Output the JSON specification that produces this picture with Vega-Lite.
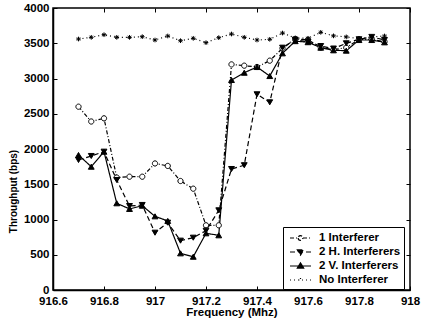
{
  "$schema": "https://vega.github.io/schema/vega-lite/v6.json",
  "autosize": "none",
  "width": 357,
  "height": 282,
  "padding": {"left": 53, "top": 8, "right": 11, "bottom": 30},
  "background": "white",
  "config": {
    "view": {"stroke": "black", "strokeWidth": 1.5},
    "font": "Liberation Sans",
    "axis": {
      "labelFont": "Liberation Sans", "labelFontWeight": "bold", "labelFontSize": 11.5, "labelColor": "black",
      "titleFont": "Liberation Sans", "titleFontWeight": "bold", "titleColor": "black",
      "domainColor": "black", "domainWidth": 1.5, "tickColor": "black", "tickSize": -4, "tickWidth": 1, "grid": false
    },
    "legend": {"labelFont": "Liberation Sans", "labelFontWeight": "bold", "labelFontSize": 11.5, "labelColor": "black"}
  },
  "data": {"values": [
    {"f": 916.70, "s": "1 Interferer", "v": 2600}, {"f": 916.75, "s": "1 Interferer", "v": 2390}, {"f": 916.80, "s": "1 Interferer", "v": 2435}, {"f": 916.85, "s": "1 Interferer", "v": 1595}, {"f": 916.90, "s": "1 Interferer", "v": 1607}, {"f": 916.95, "s": "1 Interferer", "v": 1607}, {"f": 917.00, "s": "1 Interferer", "v": 1795}, {"f": 917.05, "s": "1 Interferer", "v": 1760}, {"f": 917.10, "s": "1 Interferer", "v": 1546}, {"f": 917.15, "s": "1 Interferer", "v": 1437}, {"f": 917.20, "s": "1 Interferer", "v": 918}, {"f": 917.25, "s": "1 Interferer", "v": 918}, {"f": 917.30, "s": "1 Interferer", "v": 3200}, {"f": 917.35, "s": "1 Interferer", "v": 3182}, {"f": 917.40, "s": "1 Interferer", "v": 3163}, {"f": 917.45, "s": "1 Interferer", "v": 3253}, {"f": 917.50, "s": "1 Interferer", "v": 3428}, {"f": 917.55, "s": "1 Interferer", "v": 3560}, {"f": 917.60, "s": "1 Interferer", "v": 3550}, {"f": 917.65, "s": "1 Interferer", "v": 3440}, {"f": 917.70, "s": "1 Interferer", "v": 3410}, {"f": 917.75, "s": "1 Interferer", "v": 3437}, {"f": 917.80, "s": "1 Interferer", "v": 3556}, {"f": 917.85, "s": "1 Interferer", "v": 3556}, {"f": 917.90, "s": "1 Interferer", "v": 3522},
    {"f": 916.70, "s": "2 H. Interferers", "v": 1844}, {"f": 916.75, "s": "2 H. Interferers", "v": 1901}, {"f": 916.80, "s": "2 H. Interferers", "v": 1962}, {"f": 916.85, "s": "2 H. Interferers", "v": 1560}, {"f": 916.90, "s": "2 H. Interferers", "v": 1191}, {"f": 916.95, "s": "2 H. Interferers", "v": 1206}, {"f": 917.00, "s": "2 H. Interferers", "v": 813}, {"f": 917.05, "s": "2 H. Interferers", "v": 955}, {"f": 917.10, "s": "2 H. Interferers", "v": 700}, {"f": 917.15, "s": "2 H. Interferers", "v": 742}, {"f": 917.20, "s": "2 H. Interferers", "v": 841}, {"f": 917.25, "s": "2 H. Interferers", "v": 1130}, {"f": 917.30, "s": "2 H. Interferers", "v": 1716}, {"f": 917.35, "s": "2 H. Interferers", "v": 1770}, {"f": 917.40, "s": "2 H. Interferers", "v": 2776}, {"f": 917.45, "s": "2 H. Interferers", "v": 2662}, {"f": 917.50, "s": "2 H. Interferers", "v": 3437}, {"f": 917.55, "s": "2 H. Interferers", "v": 3550}, {"f": 917.60, "s": "2 H. Interferers", "v": 3520}, {"f": 917.65, "s": "2 H. Interferers", "v": 3460}, {"f": 917.70, "s": "2 H. Interferers", "v": 3425}, {"f": 917.75, "s": "2 H. Interferers", "v": 3499}, {"f": 917.80, "s": "2 H. Interferers", "v": 3556}, {"f": 917.85, "s": "2 H. Interferers", "v": 3590}, {"f": 917.90, "s": "2 H. Interferers", "v": 3546},
    {"f": 916.70, "s": "2 V. Interferers", "v": 1915}, {"f": 916.75, "s": "2 V. Interferers", "v": 1749}, {"f": 916.80, "s": "2 V. Interferers", "v": 1962}, {"f": 916.85, "s": "2 V. Interferers", "v": 1230}, {"f": 916.90, "s": "2 V. Interferers", "v": 1150}, {"f": 916.95, "s": "2 V. Interferers", "v": 1196}, {"f": 917.00, "s": "2 V. Interferers", "v": 1045}, {"f": 917.05, "s": "2 V. Interferers", "v": 980}, {"f": 917.10, "s": "2 V. Interferers", "v": 520}, {"f": 917.15, "s": "2 V. Interferers", "v": 472}, {"f": 917.20, "s": "2 V. Interferers", "v": 804}, {"f": 917.25, "s": "2 V. Interferers", "v": 776}, {"f": 917.30, "s": "2 V. Interferers", "v": 2979}, {"f": 917.35, "s": "2 V. Interferers", "v": 3082}, {"f": 917.40, "s": "2 V. Interferers", "v": 3163}, {"f": 917.45, "s": "2 V. Interferers", "v": 3035}, {"f": 917.50, "s": "2 V. Interferers", "v": 3357}, {"f": 917.55, "s": "2 V. Interferers", "v": 3530}, {"f": 917.60, "s": "2 V. Interferers", "v": 3515}, {"f": 917.65, "s": "2 V. Interferers", "v": 3437}, {"f": 917.70, "s": "2 V. Interferers", "v": 3400}, {"f": 917.75, "s": "2 V. Interferers", "v": 3395}, {"f": 917.80, "s": "2 V. Interferers", "v": 3546}, {"f": 917.85, "s": "2 V. Interferers", "v": 3546}, {"f": 917.90, "s": "2 V. Interferers", "v": 3513},
    {"f": 916.70, "s": "No Interferer", "v": 3560}, {"f": 916.75, "s": "No Interferer", "v": 3584}, {"f": 916.80, "s": "No Interferer", "v": 3621}, {"f": 916.85, "s": "No Interferer", "v": 3584}, {"f": 916.90, "s": "No Interferer", "v": 3584}, {"f": 916.95, "s": "No Interferer", "v": 3593}, {"f": 917.00, "s": "No Interferer", "v": 3546}, {"f": 917.05, "s": "No Interferer", "v": 3603}, {"f": 917.10, "s": "No Interferer", "v": 3536}, {"f": 917.15, "s": "No Interferer", "v": 3570}, {"f": 917.20, "s": "No Interferer", "v": 3508}, {"f": 917.25, "s": "No Interferer", "v": 3579}, {"f": 917.30, "s": "No Interferer", "v": 3631}, {"f": 917.35, "s": "No Interferer", "v": 3584}, {"f": 917.40, "s": "No Interferer", "v": 3546}, {"f": 917.45, "s": "No Interferer", "v": 3556}, {"f": 917.50, "s": "No Interferer", "v": 3645}, {"f": 917.55, "s": "No Interferer", "v": 3575}, {"f": 917.60, "s": "No Interferer", "v": 3570}, {"f": 917.65, "s": "No Interferer", "v": 3655}, {"f": 917.70, "s": "No Interferer", "v": 3605}, {"f": 917.75, "s": "No Interferer", "v": 3590}, {"f": 917.80, "s": "No Interferer", "v": 3565}, {"f": 917.85, "s": "No Interferer", "v": 3590}, {"f": 917.90, "s": "No Interferer", "v": 3603}
  ]},
  "layer": [
    {
      "mark": {"type": "line", "color": "black", "strokeWidth": 1.2},
      "encoding": {
        "x": {"field": "f", "type": "quantitative", "scale": {"domain": [916.6, 918], "nice": false, "zero": false},
              "axis": {"values": [916.6, 916.8, 917, 917.2, 917.4, 917.6, 917.8, 918], "format": ".4~r", "title": "Frequency (Mhz)", "titleFontSize": 11.5, "labelPadding": 9, "titlePadding": 0, "labelFlush": false}},
        "y": {"field": "v", "type": "quantitative", "scale": {"domain": [0, 4000], "nice": false},
              "axis": {"values": [0, 500, 1000, 1500, 2000, 2500, 3000, 3500, 4000], "format": "d", "title": "Throughput (bps)", "titleFontSize": 10, "labelPadding": 8, "titleX": -37, "titleY": 183, "titleBaseline": "alphabetic", "titleAngle": -90}},
        "strokeDash": {"field": "s", "type": "nominal", "legend": null,
          "scale": {"domain": ["1 Interferer", "2 H. Interferers", "2 V. Interferers", "No Interferer"], "range": [[4, 2, 1, 2], [5, 3], [1, 0], [1, 3]]}}
      }
    },
    {
      "mark": {"type": "point", "filled": true, "stroke": "black", "strokeWidth": 1, "opacity": 1, "size": 34},
      "encoding": {
        "x": {"field": "f", "type": "quantitative", "axis": {"orient": "top", "values": [916.6, 916.8, 917, 917.2, 917.4, 917.6, 917.8, 918], "labels": false, "title": null, "domain": false}},
        "y": {"field": "v", "type": "quantitative", "axis": {"orient": "right", "values": [0, 500, 1000, 1500, 2000, 2500, 3000, 3500, 4000], "labels": false, "title": null, "domain": false}},
        "shape": {"field": "s", "type": "nominal", "legend": null,
          "scale": {"domain": ["1 Interferer", "2 H. Interferers", "2 V. Interferers", "No Interferer"], "range": ["M-0.9,0A0.9,0.9 0 1,0 0.9,0A0.9,0.9 0 1,0 -0.9,0", "triangle-down", "triangle-up", "M-0.8,0L0.8,0M0,-0.8L0,0.8M-0.55,-0.55L0.55,0.55M-0.55,0.55L0.55,-0.55"]}},
        "fill": {"field": "s", "type": "nominal", "legend": null,
          "scale": {"domain": ["1 Interferer", "2 H. Interferers", "2 V. Interferers", "No Interferer"], "range": ["white", "black", "black", "black"]}}
      }
    },
    {
      "mark": {"type": "point", "filled": true, "strokeWidth": 1.2, "opacity": 0},
      "encoding": {
        "x": {"field": "f", "type": "quantitative", "axis": null},
        "y": {"field": "v", "type": "quantitative", "axis": null},
        "shape": {"field": "s", "type": "nominal",
          "scale": {"range": ["M-1.5,0L-0.36,0M0.36,0L1.5,0M-0.33,0A0.33,0.33 0 1,0 0.33,0A0.33,0.33 0 1,0 -0.33,0", "M-1.5,0L1.5,0M-0.45,-0.3L0.45,-0.3L0,0.45Z", "M-1.5,0L1.5,0M-0.45,0.3L0.45,0.3L0,-0.45Z", "M-1.5,0L1.5,0M-0.3,0L0.3,0M0,-0.3L0,0.3"]},
          "legend": {"title": null, "orient": "none", "legendX": 230, "legendY": 219, "strokeColor": "black", "fillColor": "white", "padding": 3, "symbolOffset": 6.5, "rowPadding": 0, "labelOffset": 10.5, "symbolSize": 196, "symbolStrokeWidth": 1.2, "symbolStrokeColor": "black", "symbolOpacity": 1}},
        "strokeDash": {"field": "s", "type": "nominal",
          "scale": {"range": [[4, 2, 1, 2], [5, 3], [1, 0], [1, 3]]},
          "legend": {"title": null, "orient": "none", "legendX": 230, "legendY": 219, "strokeColor": "black", "fillColor": "white", "padding": 3, "symbolOffset": 6.5, "rowPadding": 0, "labelOffset": 10.5, "symbolSize": 196, "symbolStrokeWidth": 1.2, "symbolStrokeColor": "black", "symbolOpacity": 1}},
        "fill": {"field": "s", "type": "nominal",
          "scale": {"range": ["white", "black", "black", "black"]},
          "legend": {"title": null, "orient": "none", "legendX": 230, "legendY": 219, "strokeColor": "black", "fillColor": "white", "padding": 3, "symbolOffset": 6.5, "rowPadding": 0, "labelOffset": 10.5, "symbolSize": 196, "symbolStrokeWidth": 1.2, "symbolStrokeColor": "black", "symbolOpacity": 1}},
        "stroke": {"field": "s", "type": "nominal",
          "scale": {"range": ["black", "black", "black", "black"]},
          "legend": {"title": null, "orient": "none", "legendX": 230, "legendY": 219, "strokeColor": "black", "fillColor": "white", "padding": 3, "symbolOffset": 6.5, "rowPadding": 0, "labelOffset": 10.5, "symbolSize": 196, "symbolStrokeWidth": 1.2, "symbolStrokeColor": "black", "symbolOpacity": 1}}
      }
    }
  ],
  "resolve": {"axis": {"x": "independent", "y": "independent"}, "scale": {"shape": "independent", "strokeDash": "independent", "fill": "independent", "stroke": "independent"}}
}
